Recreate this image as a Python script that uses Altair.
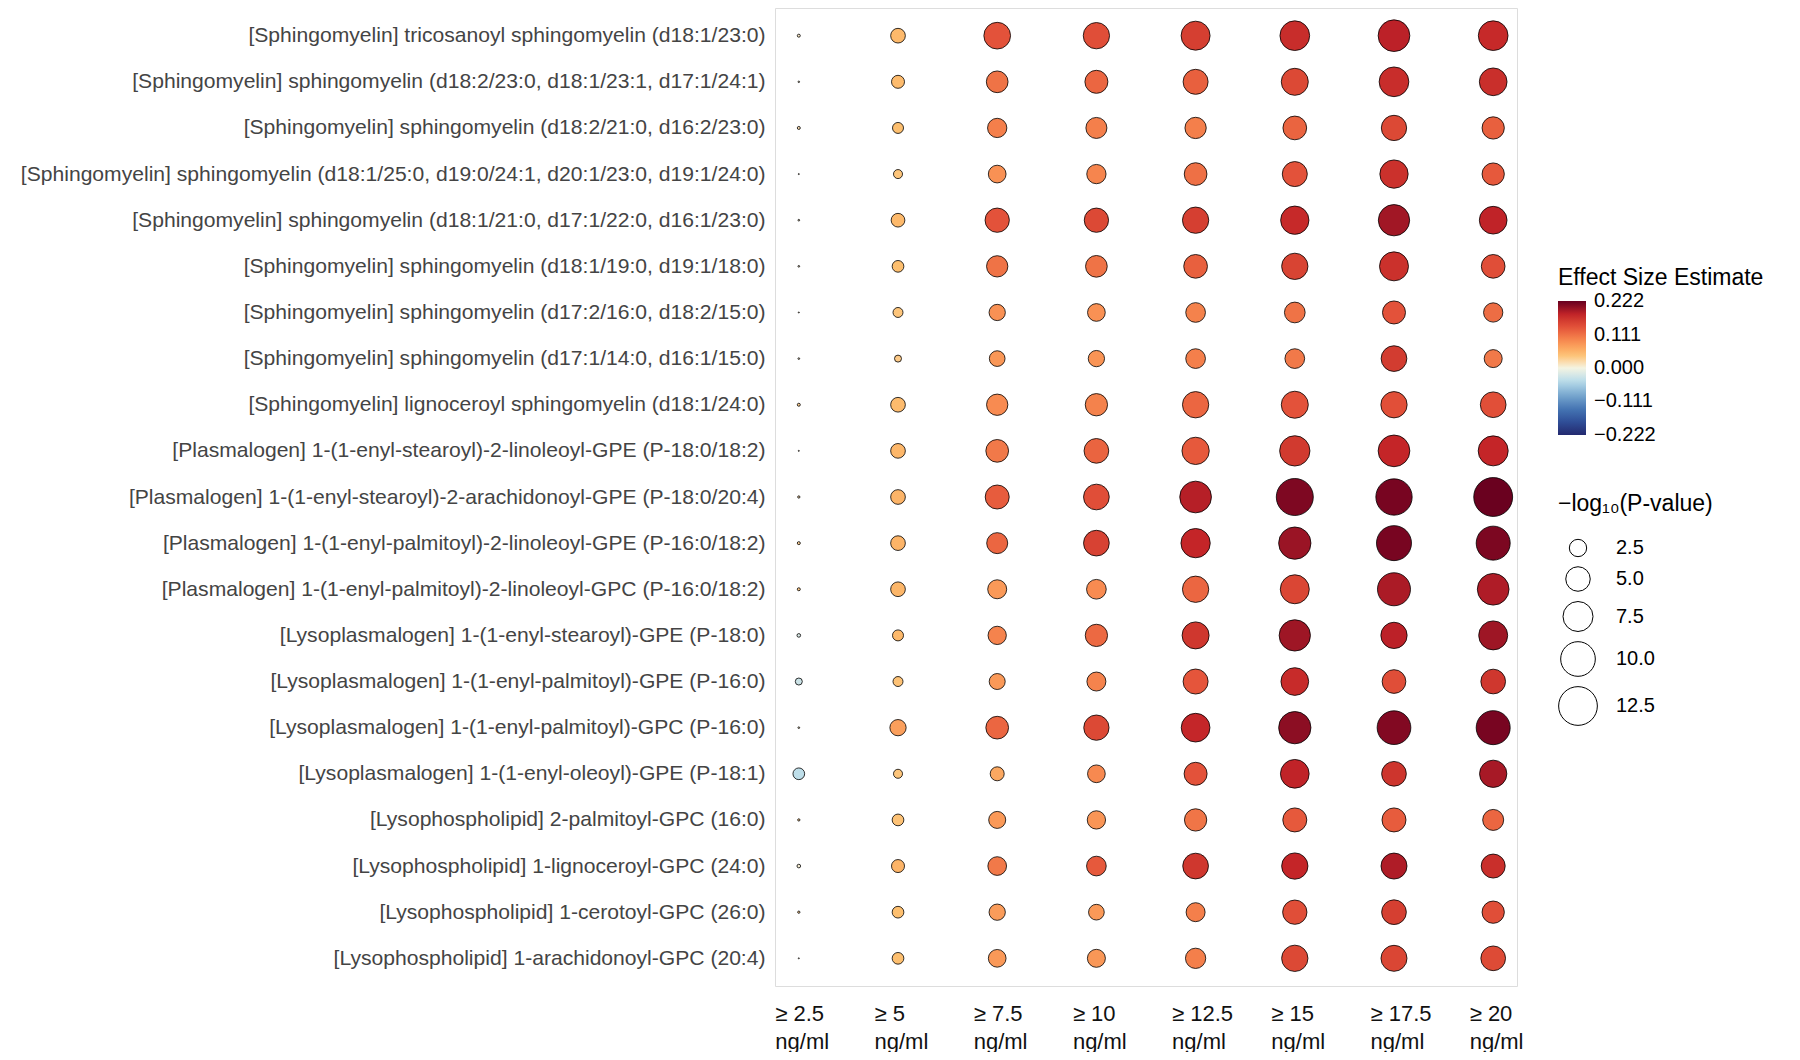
import altair as alt
import pandas as pd

metabolites = [
    "[Sphingomyelin] tricosanoyl sphingomyelin (d18:1/23:0)",
    "[Sphingomyelin] sphingomyelin (d18:2/23:0, d18:1/23:1, d17:1/24:1)",
    "[Sphingomyelin] sphingomyelin (d18:2/21:0, d16:2/23:0)",
    "[Sphingomyelin] sphingomyelin (d18:1/25:0, d19:0/24:1, d20:1/23:0, d19:1/24:0)",
    "[Sphingomyelin] sphingomyelin (d18:1/21:0, d17:1/22:0, d16:1/23:0)",
    "[Sphingomyelin] sphingomyelin (d18:1/19:0, d19:1/18:0)",
    "[Sphingomyelin] sphingomyelin (d17:2/16:0, d18:2/15:0)",
    "[Sphingomyelin] sphingomyelin (d17:1/14:0, d16:1/15:0)",
    "[Sphingomyelin] lignoceroyl sphingomyelin (d18:1/24:0)",
    "[Plasmalogen] 1-(1-enyl-stearoyl)-2-linoleoyl-GPE (P-18:0/18:2)",
    "[Plasmalogen] 1-(1-enyl-stearoyl)-2-arachidonoyl-GPE (P-18:0/20:4)",
    "[Plasmalogen] 1-(1-enyl-palmitoyl)-2-linoleoyl-GPE (P-16:0/18:2)",
    "[Plasmalogen] 1-(1-enyl-palmitoyl)-2-linoleoyl-GPC (P-16:0/18:2)",
    "[Lysoplasmalogen] 1-(1-enyl-stearoyl)-GPE (P-18:0)",
    "[Lysoplasmalogen] 1-(1-enyl-palmitoyl)-GPE (P-16:0)",
    "[Lysoplasmalogen] 1-(1-enyl-palmitoyl)-GPC (P-16:0)",
    "[Lysoplasmalogen] 1-(1-enyl-oleoyl)-GPE (P-18:1)",
    "[Lysophospholipid] 2-palmitoyl-GPC (16:0)",
    "[Lysophospholipid] 1-lignoceroyl-GPC (24:0)",
    "[Lysophospholipid] 1-cerotoyl-GPC (26:0)",
    "[Lysophospholipid] 1-arachidonoyl-GPC (20:4)",
]

thresholds = ["≥ 2.5", "≥ 5", "≥ 7.5", "≥ 10", "≥ 12.5", "≥ 15", "≥ 17.5", "≥ 20"]

# effect size estimates (rows = metabolites, columns = thresholds)
effect = [
    [0.010, 0.050, 0.135, 0.140, 0.155, 0.172, 0.182, 0.175],
    [0.010, 0.048, 0.110, 0.120, 0.125, 0.145, 0.172, 0.170],
    [0.020, 0.045, 0.100, 0.100, 0.100, 0.122, 0.145, 0.125],
    [0.010, 0.040, 0.085, 0.095, 0.112, 0.135, 0.168, 0.130],
    [0.010, 0.050, 0.135, 0.145, 0.155, 0.175, 0.195, 0.180],
    [0.010, 0.045, 0.110, 0.110, 0.125, 0.150, 0.168, 0.140],
    [0.010, 0.040, 0.085, 0.085, 0.098, 0.110, 0.135, 0.115],
    [0.010, 0.035, 0.080, 0.083, 0.100, 0.105, 0.158, 0.105],
    [0.030, 0.048, 0.090, 0.098, 0.120, 0.135, 0.138, 0.138],
    [0.010, 0.052, 0.105, 0.122, 0.130, 0.160, 0.178, 0.178],
    [0.020, 0.055, 0.128, 0.140, 0.185, 0.212, 0.215, 0.222],
    [0.030, 0.055, 0.120, 0.152, 0.178, 0.198, 0.215, 0.213],
    [0.035, 0.053, 0.078, 0.090, 0.120, 0.148, 0.190, 0.188],
    [-0.020, 0.050, 0.097, 0.118, 0.163, 0.196, 0.182, 0.196],
    [-0.030, 0.042, 0.078, 0.097, 0.133, 0.173, 0.140, 0.163],
    [0.010, 0.073, 0.120, 0.145, 0.177, 0.205, 0.210, 0.215],
    [-0.040, 0.040, 0.065, 0.092, 0.135, 0.180, 0.165, 0.192],
    [0.030, 0.042, 0.078, 0.082, 0.108, 0.130, 0.128, 0.120],
    [0.005, 0.055, 0.105, 0.130, 0.163, 0.178, 0.188, 0.170],
    [0.030, 0.045, 0.076, 0.078, 0.100, 0.140, 0.155, 0.140],
    [0.010, 0.045, 0.078, 0.080, 0.100, 0.145, 0.148, 0.143],
]

# -log10(P-value)
neglogp = [
    [0.075, 1.80, 5.94, 5.76, 7.00, 7.35, 8.37, 7.35],
    [0.020, 1.41, 3.92, 4.41, 5.21, 6.08, 7.35, 6.39],
    [0.075, 1.01, 3.10, 3.68, 3.78, 4.68, 5.33, 4.14],
    [0.010, 0.68, 2.61, 3.10, 4.29, 5.21, 6.67, 4.14],
    [0.024, 1.56, 4.92, 4.92, 5.76, 6.67, 8.17, 6.39],
    [0.024, 1.14, 3.78, 3.92, 4.68, 5.76, 7.00, 4.68],
    [0.010, 0.83, 2.21, 2.61, 3.23, 3.57, 4.41, 3.10],
    [0.024, 0.41, 2.05, 2.21, 3.23, 3.23, 5.50, 2.70],
    [0.075, 1.80, 3.78, 4.14, 5.76, 6.08, 5.76, 5.50],
    [0.010, 1.80, 4.29, 5.08, 6.21, 7.65, 8.37, 7.50],
    [0.044, 1.80, 4.80, 5.50, 8.37, 11.40, 10.98, 12.60],
    [0.075, 1.80, 3.68, 5.50, 7.15, 8.70, 10.20, 9.63],
    [0.075, 1.80, 3.00, 3.23, 5.76, 7.00, 9.08, 8.37],
    [0.110, 1.01, 2.79, 4.14, 6.08, 8.17, 5.76, 7.00],
    [0.410, 0.83, 2.13, 3.00, 5.21, 6.39, 4.68, 5.08],
    [0.024, 2.21, 4.29, 5.33, 6.86, 8.70, 9.46, 9.63],
    [1.140, 0.68, 1.63, 2.61, 4.41, 6.86, 5.08, 6.21],
    [0.044, 1.14, 2.41, 2.79, 4.14, 4.80, 4.80, 3.68],
    [0.110, 1.41, 2.91, 3.23, 5.50, 5.76, 5.63, 4.80],
    [0.044, 1.14, 2.21, 2.05, 3.00, 4.92, 5.08, 4.14],
    [0.010, 1.14, 2.61, 2.70, 3.43, 5.76, 5.63, 5.08],
]

color_ticks = [-0.222, -0.111, 0.0, 0.111, 0.222]
size_ticks = [2.5, 5.0, 7.5, 10.0, 12.5]
palette = ["#23296f", "#2f4f98", "#4677b5", "#78a9cf", "#b7dbea", "#f4f4e2",
           "#fdbf6f", "#f88c51", "#e4533a", "#c32428", "#67001f"]

records = []
for i, m in enumerate(metabolites):
    for j, t in enumerate(thresholds):
        records.append({"metabolite": m, "threshold": t,
                        "effect": effect[i][j], "neglogp": neglogp[i][j]})
df = pd.DataFrame(records)

FONT = "Liberation Sans"

chart = alt.Chart(df).mark_circle(
    stroke="black", strokeWidth=0.8, opacity=1
).encode(
    x=alt.X("threshold:N", sort=thresholds,
            scale=alt.Scale(type="point", padding=0.24),
            axis=alt.Axis(title=None, labelExpr="[datum.label, 'ng/ml']",
                          labelAngle=0, labelAlign="left", labelOffset=-24,
                          labelBaseline="top",
                          labelFontSize=22, labelLineHeight=28, labelPadding=17,
                          labelColor="#111111", ticks=False, domain=False,
                          grid=False, labelFont=FONT)),
    y=alt.Y("metabolite:N", sort=metabolites,
            scale=alt.Scale(type="point", padding=0.6),
            axis=alt.Axis(title=None, labelFontSize=21.1, labelColor="#444444",
                          ticks=False, domain=False, grid=False,
                          labelPadding=10, labelLimit=1000, labelFont=FONT)),
    color=alt.Color("effect:Q",
                    scale=alt.Scale(domain=[-0.2235, 0.2235], range=palette,
                                    interpolate="lab"),
                    legend=alt.Legend(title="Effect Size Estimate",
                                      values=color_ticks, format=".3f",
                                      orient="none", legendX=783, legendY=259,
                                      direction="vertical",
                                      gradientLength=134, gradientThickness=28,
                                      titleFontSize=23, titleFontWeight="normal",
                                      titleColor="black", titlePadding=11,
                                      labelFontSize=20, labelColor="black",
                                      labelOffset=8, labelBaseline="middle",
                                      labelFont=FONT, titleFont=FONT,
                                      titleLimit=1000)),
    size=alt.Size("neglogp:Q",
                  scale=alt.Scale(domain=[0, 13], range=[0, 1560]),
                  legend=alt.Legend(title="−log₁₀(P-value)", values=size_ticks,
                                    format=".1f",
                                    orient="none", legendX=783, legendY=485,
                                    symbolFillColor="white",
                                    symbolStrokeColor="black",
                                    symbolStrokeWidth=1, symbolOpacity=1,
                                    titleFontSize=23, titleFontWeight="normal",
                                    titleColor="black", titlePadding=22,
                                    labelFontSize=20, labelColor="black",
                                    labelOffset=18, rowPadding=5,
                                    labelFont=FONT, titleFont=FONT,
                                    titleLimit=1000)),
).properties(
    width=742, height=978,
    autosize=alt.AutoSizeParams(type="none"),
    padding={"left": 767, "top": 0, "right": 275, "bottom": 66},
).configure_view(
    stroke="#c4c4c4", strokeWidth=1.3
).configure(font=FONT)

chart.save("out.html", embed_options={"renderer": "svg", "actions": False})
